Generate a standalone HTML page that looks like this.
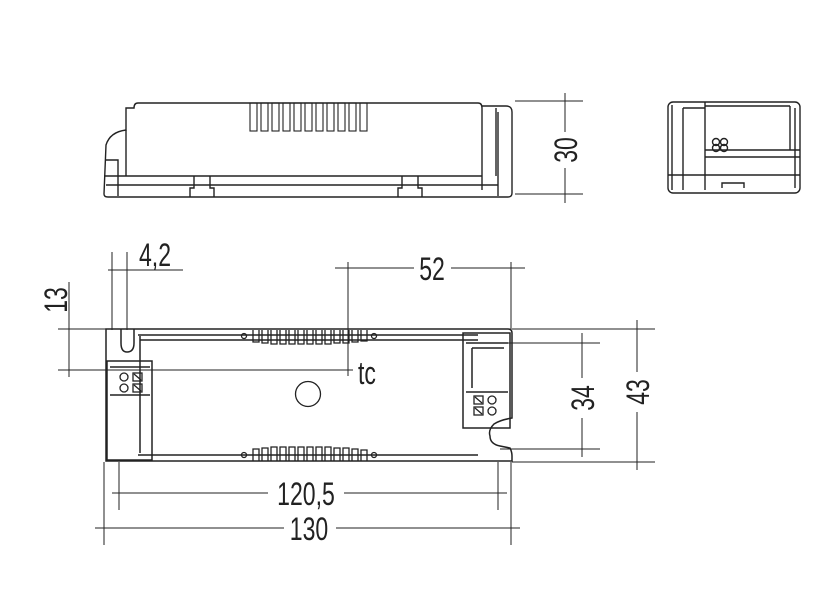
<!DOCTYPE html>
<html><head><meta charset="utf-8"><style>
html,body{margin:0;padding:0;background:#fff}
svg{display:block}
text{font-family:"Liberation Sans",sans-serif;font-size:32px;fill:#222}
</style></head><body>
<svg width="829" height="614" viewBox="0 0 829 614" xmlns="http://www.w3.org/2000/svg">
<g fill="none" stroke="#222" stroke-width="1">
<g stroke-width="1.4">
<path d="M138 103 L478 103 Q482 103 482 108 L482 190 M138 103 L138 103 Q134 103 134 108 L126 108 L126 130 Q110 132 106 145 L104 194 Q104 197 108 197 L508 197 Q512 197 512 193 L512 112 Q512 106 506 106 L482 106"/>
<path d="M104 176 L482 176 M106 185 L498 185"/>
<path d="M126 130 L126 176 M496 108 L496 176 M498 112 L498 196 M106 160 L118 160 L118 196"/>
<path d="M194 176 L194 188 L190 188 L190 197 M210 176 L210 188 L214 188 L214 197 M402 176 L402 188 L398 188 L398 197 M418 176 L418 188 L422 188 L422 197"/>
</g>
<g stroke-width="1.1">
<rect x="250" y="103" width="7" height="28"/><rect x="261" y="103" width="7" height="28"/><rect x="272" y="103" width="7" height="28"/><rect x="283" y="103" width="7" height="28"/><rect x="294" y="103" width="7" height="28"/><rect x="305" y="103" width="7" height="28"/><rect x="316" y="103" width="7" height="28"/><rect x="327" y="103" width="7" height="28"/><rect x="338" y="103" width="7" height="28"/><rect x="349" y="103" width="7" height="28"/><rect x="360" y="103" width="7" height="28"/>
</g>
<path d="M515 101 L583 101 M515 194 L583 194 M565 93 L565 132 M565 168 L565 203"/>
<g stroke-width="1.4">
<rect x="668" y="102" width="132" height="91" rx="5"/>
<path d="M705 102 L705 190 M672 105 L672 190 M683 108 L705 108 M683 108 L683 190 M705 150 L800 150 M705 157 L800 157 M668 175 L800 175 M705 106 L790 106 M790 106 L790 150 M795 108 L795 188 M722 188 L722 183 L744 183 L744 188"/>
<circle cx="716" cy="142" r="3.5"/><circle cx="716" cy="148" r="3.5"/><circle cx="724" cy="142" r="3.5"/><circle cx="724" cy="148" r="3.5"/>
</g>
<g stroke-width="1.5">
<path d="M106 329 L508 329 Q512 329 512 333 L512 418 Q500 420 494 424 Q488 430 490 436 Q490 444 500 446 L510 448 Q512 452 512 456 L512 461 L106 461 Z"/>
<path d="M138 335 L478 335 M140 340 L478 340 M138 455 L478 455 M140 336 L140 453"/>
<path d="M121 329 L121 343 Q121 352 127 352 Q134 352 134 343 L134 329"/>
<rect x="107" y="361" width="45" height="99"/>
<rect x="463" y="333" width="47" height="95"/>
<path d="M110 367 L150 367 M110 395 L150 395 M466 343 L508 343 M466 392 L508 392 M472 348 L504 348 M472 348 L472 388"/>
</g>
<g stroke-width="1.3">
<circle cx="124" cy="377" r="4"/><circle cx="124" cy="388" r="4"/>
<rect x="133" y="373" width="9" height="8"/><rect x="133" y="384" width="9" height="8"/>
<path d="M134 374 L141 380 M134 385 L141 391"/>
<circle cx="492" cy="400" r="4"/><circle cx="492" cy="411" r="4"/>
<rect x="474" y="396" width="9" height="8"/><rect x="474" y="407" width="9" height="8"/>
<path d="M475 397 L482 403 M475 408 L482 414"/>
<circle cx="308" cy="394" r="12.5"/>
<circle cx="244" cy="336" r="2.5"/><circle cx="374" cy="336" r="2.5"/><circle cx="244" cy="455" r="2.5"/><circle cx="374" cy="455" r="2.5"/>
<path d="M253 330 L253 342 L259 342 L259 330 M262 330 L262 343 L268 343 L268 330 M271 330 L271 344 L277 344 L277 330 M280 330 L280 344 L286 344 L286 330 M289 330 L289 344 L295 344 L295 330 M298 330 L298 344 L304 344 L304 330 M307 330 L307 344 L313 344 L313 330 M316 330 L316 344 L322 344 L322 330 M325 330 L325 344 L331 344 L331 330 M334 330 L334 343 L340 343 L340 330 M343 330 L343 343 L349 343 L349 330 M352 330 L352 342 L358 342 L358 330 M361 330 L361 341 L367 341 L367 330"/>
<path d="M253 461 L253 449 L259 449 L259 461 M262 461 L262 448 L268 448 L268 461 M271 461 L271 447 L277 447 L277 461 M280 461 L280 447 L286 447 L286 461 M289 461 L289 447 L295 447 L295 461 M298 461 L298 447 L304 447 L304 461 M307 461 L307 447 L313 447 L313 461 M316 461 L316 447 L322 447 L322 461 M325 461 L325 447 L331 447 L331 461 M334 461 L334 448 L340 448 L340 461 M343 461 L343 448 L349 448 L349 461 M352 461 L352 449 L358 449 L358 461 M361 461 L361 450 L367 450 L367 461"/>
</g>
<path d="M112 252 L112 330 M127 252 L127 330 M108 270 L183 270"/>
<path d="M69 282 L69 377 M58 329 L130 329 M58 370 L348 370"/>
<path d="M335 268 L414 268 M451 268 L525 268 M348 262 L348 376 M511 262 L511 330 M343 370 L353 370"/>
<path d="M512 329 L655 329 M512 462 L655 462 M637 320 L637 372 M637 412 L637 470"/>
<path d="M500 343 L600 343 M500 449 L600 449 M582 333 L582 378 M582 418 L582 457"/>
<path d="M112 493 L268 493 M344 493 L507 493 M119 462 L119 510 M498 462 L498 510"/>
<path d="M95 528 L284 528 M336 528 L520 528 M104 462 L104 545 M511 462 L511 545"/>
</g>
<text transform="translate(139,266) scale(0.72,1)">4,2</text>
<text transform="translate(432,280) scale(0.72,1)" text-anchor="middle">52</text>
<text transform="translate(358,384) scale(0.72,1)">tc</text>
<text transform="translate(306,505) scale(0.72,1)" text-anchor="middle">120,5</text>
<text transform="translate(309,540) scale(0.72,1)" text-anchor="middle">130</text>
<text transform="translate(67,300) rotate(-90) scale(0.72,1)" text-anchor="middle">13</text>
<text transform="translate(577,150) rotate(-90) scale(0.72,1)" text-anchor="middle">30</text>
<text transform="translate(594,398) rotate(-90) scale(0.72,1)" text-anchor="middle">34</text>
<text transform="translate(649,392) rotate(-90) scale(0.72,1)" text-anchor="middle">43</text>
</svg>
</body></html>
